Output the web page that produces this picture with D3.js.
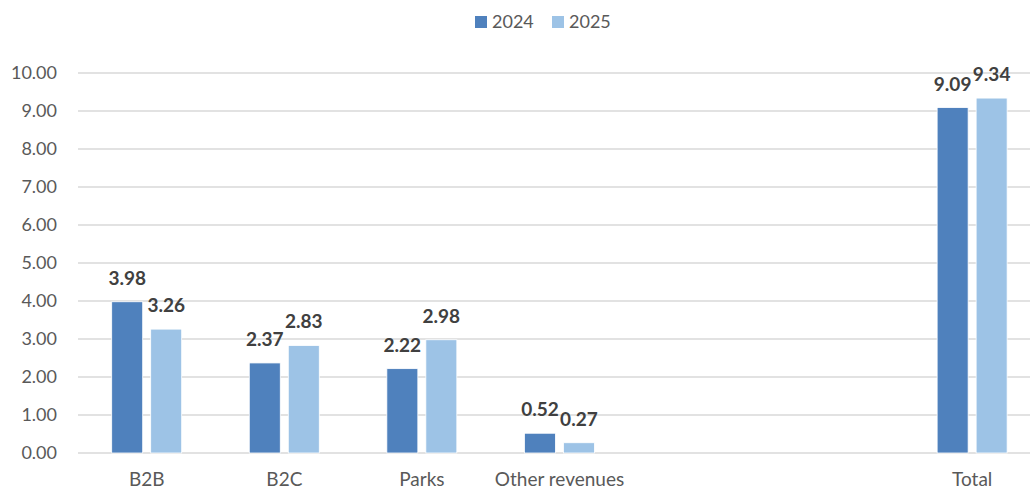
<!DOCTYPE html>
<html>
<head>
<meta charset="utf-8">
<script src="https://cdn.jsdelivr.net/npm/d3@7"></script>
<style>
body { margin: 0; background: #fff; }
text { font-family: Lato, "Open Sans", sans-serif; }
</style>
</head>
<body>
<script>
// chart values
var categories = ["B2B", "B2C", "Parks", "Other revenues", "", "", "Total"];
var seriesNames = ["2024", "2025"];
var values2024 = [3.98, 2.37, 2.22, 0.52, null, null, 9.09];
var values2025 = [3.26, 2.83, 2.98, 0.27, null, null, 9.34];
var yTicks = [0, 1, 2, 3, 4, 5, 6, 7, 8, 9, 10];

var colors = ["#4f81bd", "#9dc3e6"];
var svgWidth = 1030;
var svgHeight = 489;
var margin = {top: 73, left: 78, bottom: 36};
var plotRight = 1041;
var height = svgHeight - margin.top - margin.bottom;

var svg = d3.select("body")
	.append("svg")
		.attr("width", svgWidth)
		.attr("height", svgHeight);

var xScale = d3.scaleBand()
	.domain(d3.range(categories.length))
	.range([margin.left, plotRight])
	.paddingInner(0)
	.paddingOuter(0);

var inner = d3.scaleBand()
	.domain(seriesNames)
	.range([33.7, 103.7])
	.paddingInner(0.205);

var yScale = d3.scaleLinear()
	.domain([0, 10])
	.range([margin.top + height, margin.top]);

//gridlines
svg.append("g")
	.selectAll("line")
	.data(yTicks)
	.enter().append("line")
		.attr("x1", margin.left)
		.attr("x2", plotRight)
		.attr("y1", function(d){ return yScale(d); })
		.attr("y2", function(d){ return yScale(d); })
		.attr("stroke", "#d9d9d9")
		.attr("stroke-width", 1.5);

//y axis labels
var yAxis = svg.append("g")
	.attr("transform", "translate(" + (margin.left - 14) + ",0)")
	.call(d3.axisLeft(yScale).tickValues(yTicks).tickFormat(d3.format(".2f")).tickSize(0).tickPadding(7));
yAxis.select(".domain").remove();
yAxis.selectAll("text")
	.attr("fill", "#595959")
	.style("font-size", "18px");

//category labels
svg.append("g")
	.selectAll("text")
	.data(categories)
	.enter().append("text")
		.attr("x", function(d, i){ return xScale(i) + xScale.bandwidth() / 2; })
		.attr("y", 486)
		.attr("text-anchor", "middle")
		.attr("fill", "#595959")
		.style("font-size", "19px")
		.text(function(d){ return d; });

var series = [values2024, values2025];
series.forEach(function(vals, s){
	var g = svg.append("g");
	var pts = vals.map(function(v, i){ return {i: i, v: v}; }).filter(function(d){ return d.v != null; });
	g.selectAll("rect")
		.data(pts)
		.enter().append("rect")
			.attr("x", function(d){ return xScale(d.i) + inner(seriesNames[s]); })
			.attr("y", function(d){ return yScale(d.v); })
			.attr("width", inner.bandwidth())
			.attr("height", function(d){ return yScale(0) - yScale(d.v); })
			.attr("fill", colors[s])
			.attr("stroke", "#fff")
			.attr("stroke-width", 0.8);
	g.selectAll("text")
		.data(pts)
		.enter().append("text")
			.attr("x", function(d){ return xScale(d.i) + inner(seriesNames[s]) + inner.bandwidth() / 2; })
			.attr("y", function(d){ return yScale(d.v) - 17; })
			.attr("text-anchor", "middle")
			.attr("fill", "#404040")
			.style("font-size", "19px")
			.style("font-weight", "bold")
			.text(function(d){ return d.v.toFixed(2); });
});

//legend
var legend = svg.append("g");
var legendX = [475, 552];
seriesNames.forEach(function(name, s){
	legend.append("rect")
		.attr("x", legendX[s])
		.attr("y", 16)
		.attr("width", 12)
		.attr("height", 12)
		.attr("fill", colors[s]);
	legend.append("text")
		.attr("x", legendX[s] + 17)
		.attr("y", 28)
		.attr("fill", "#595959")
		.style("font-size", "18px")
		.text(name);
});
</script>
</body>
</html>
